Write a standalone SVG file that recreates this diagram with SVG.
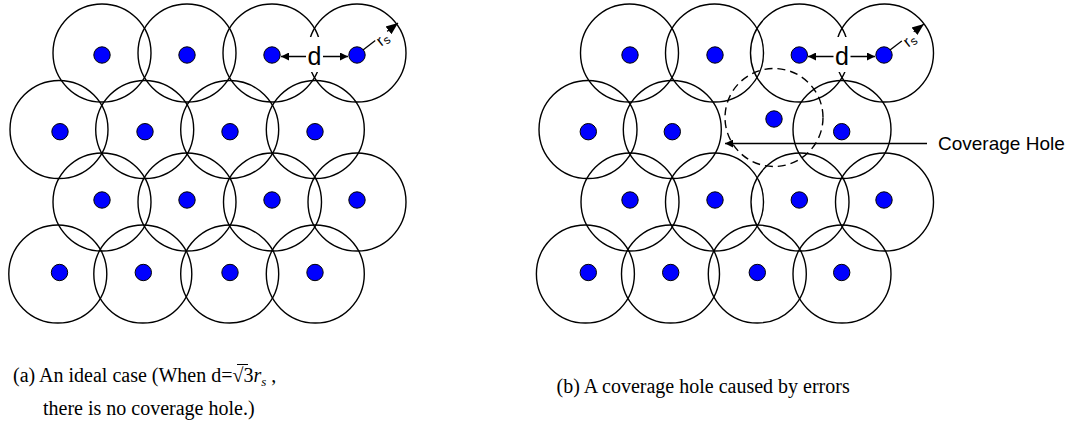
<svg xmlns="http://www.w3.org/2000/svg" width="1075" height="425" viewBox="0 0 1075 425">
<style>
.rng{fill:none;stroke:#000;stroke-width:1.4}
.hole{fill:none;stroke:#000;stroke-width:1.4;stroke-dasharray:8 5}
.dot{fill:#0000ff;stroke:#000;stroke-width:1}
.ln{stroke:#000;stroke-width:1.3;fill:none}
.lbl{font-family:"Liberation Sans",Arial,sans-serif;fill:#000}
.cap{font-family:"Liberation Serif","Times New Roman",serif;font-size:20px;fill:#000}
</style>
<defs>
<marker id="ah" viewBox="0 0 10 10" refX="10" refY="5" markerWidth="8" markerHeight="8" markerUnits="userSpaceOnUse" orient="auto-start-reverse"><path d="M0,0 L10,5 L0,10 z" fill="#000"/></marker>
<marker id="ah2" viewBox="0 0 10 10" refX="10" refY="5" markerWidth="12" markerHeight="12" markerUnits="userSpaceOnUse" orient="auto"><path d="M0,1 L10,5 L0,9 z" fill="#000"/></marker>
</defs>

<!-- Panel (a) -->
<g id="a-n11"><circle class="rng" cx="102" cy="53" r="49"/><circle class="dot" cx="102" cy="55" r="8.2"/></g>
<g id="a-n12"><circle class="rng" cx="187" cy="53" r="49"/><circle class="dot" cx="187" cy="55" r="8.2"/></g>
<g id="a-n13"><circle class="rng" cx="272" cy="53" r="49"/><circle class="dot" cx="272" cy="55" r="8.2"/></g>
<g id="a-n14"><circle class="rng" cx="357" cy="53" r="49"/><circle class="dot" cx="357" cy="55" r="8.2"/></g>
<g id="a-n21"><circle class="rng" cx="59" cy="129.5" r="49"/><circle class="dot" cx="60" cy="131.7" r="8.2"/></g>
<g id="a-n22"><circle class="rng" cx="144.7" cy="129.5" r="49"/><circle class="dot" cx="145" cy="131.7" r="8.2"/></g>
<g id="a-n23"><circle class="rng" cx="229.7" cy="129.5" r="49"/><circle class="dot" cx="230" cy="131.7" r="8.2"/></g>
<g id="a-n24"><circle class="rng" cx="315.3" cy="129.5" r="49"/><circle class="dot" cx="315" cy="131.7" r="8.2"/></g>
<g id="a-n31"><circle class="rng" cx="102" cy="202" r="49"/><circle class="dot" cx="102" cy="200" r="8.2"/></g>
<g id="a-n32"><circle class="rng" cx="187" cy="202" r="49"/><circle class="dot" cx="187" cy="200" r="8.2"/></g>
<g id="a-n33"><circle class="rng" cx="272.5" cy="202" r="49"/><circle class="dot" cx="272" cy="200" r="8.2"/></g>
<g id="a-n34"><circle class="rng" cx="357" cy="202" r="49"/><circle class="dot" cx="357" cy="200" r="8.2"/></g>
<g id="a-n41"><circle class="rng" cx="57.8" cy="274" r="49"/><circle class="dot" cx="59.5" cy="272.5" r="8.2"/></g>
<g id="a-n42"><circle class="rng" cx="142.8" cy="274" r="49"/><circle class="dot" cx="143.3" cy="272.5" r="8.2"/></g>
<g id="a-n43"><circle class="rng" cx="229.7" cy="274" r="49"/><circle class="dot" cx="230" cy="272.5" r="8.2"/></g>
<g id="a-n44"><circle class="rng" cx="315.3" cy="274" r="49"/><circle class="dot" cx="315" cy="272.5" r="8.2"/></g>

<!-- Panel (b) -->
<g id="b-n11"><circle class="rng" cx="629.5" cy="53" r="49"/><circle class="dot" cx="630" cy="55" r="8.2"/></g>
<g id="b-n12"><circle class="rng" cx="714.5" cy="53" r="49"/><circle class="dot" cx="715" cy="55" r="8.2"/></g>
<g id="b-n13"><circle class="rng" cx="799.5" cy="53" r="49"/><circle class="dot" cx="799.3" cy="55" r="8.2"/></g>
<g id="b-n14"><circle class="rng" cx="884.5" cy="53" r="49"/><circle class="dot" cx="884" cy="55" r="8.2"/></g>
<g id="b-n21"><circle class="rng" cx="588" cy="129.5" r="49"/><circle class="dot" cx="588.3" cy="131.7" r="8.2"/></g>
<g id="b-n22"><circle class="rng" cx="672.3" cy="129.5" r="49"/><circle class="dot" cx="672.3" cy="131.7" r="8.2"/></g>
<g id="b-n23"><circle class="hole" cx="774" cy="117.5" r="49"/><circle class="dot" cx="774" cy="119" r="8.2"/></g>
<g id="b-n24"><circle class="rng" cx="842" cy="129.5" r="49"/><circle class="dot" cx="841.7" cy="131.7" r="8.2"/></g>
<g id="b-n31"><circle class="rng" cx="630" cy="202" r="49"/><circle class="dot" cx="630" cy="200" r="8.2"/></g>
<g id="b-n32"><circle class="rng" cx="714.5" cy="202" r="49"/><circle class="dot" cx="715" cy="200" r="8.2"/></g>
<g id="b-n33"><circle class="rng" cx="800" cy="202" r="49"/><circle class="dot" cx="799.3" cy="200" r="8.2"/></g>
<g id="b-n34"><circle class="rng" cx="884.5" cy="202" r="49"/><circle class="dot" cx="884" cy="200" r="8.2"/></g>
<g id="b-n41"><circle class="rng" cx="585.4" cy="274" r="49"/><circle class="dot" cx="588.3" cy="272.5" r="8.2"/></g>
<g id="b-n42"><circle class="rng" cx="670.5" cy="274" r="49"/><circle class="dot" cx="670.7" cy="272.5" r="8.2"/></g>
<g id="b-n43"><circle class="rng" cx="757.3" cy="274" r="49"/><circle class="dot" cx="757.3" cy="272.5" r="8.2"/></g>
<g id="b-n44"><circle class="rng" cx="842" cy="274" r="49"/><circle class="dot" cx="841.7" cy="272.5" r="8.2"/></g>

<!-- connectors and dimension labels -->
<g id="connectors">
  <!-- panel a: d -->
  <rect x="306" y="37" width="17" height="35" fill="#fff"/>
  <line class="ln" x1="281" y1="56.5" x2="348" y2="56.5" marker-start="url(#ah)" marker-end="url(#ah)"/>
  <rect x="306" y="42" width="17" height="26" fill="#fff"/>
  <text class="lbl" x="314.5" y="65" font-size="25" text-anchor="middle">d</text>
  <!-- panel a: r_s -->
  <line class="ln" x1="363" y1="50" x2="398" y2="23" marker-end="url(#ah2)"/>
  <g transform="translate(384,42) rotate(-38)">
    <rect x="-6" y="-11" width="15" height="14" fill="#fff"/>
    <text class="lbl" x="-5" y="2" font-size="16">r<tspan font-size="12" dy="2">s</tspan></text>
  </g>

  <!-- panel b: d -->
  <rect x="833.5" y="37" width="17" height="35" fill="#fff"/>
  <line class="ln" x1="808" y1="56.5" x2="875" y2="56.5" marker-start="url(#ah)" marker-end="url(#ah)"/>
  <rect x="833.5" y="42" width="17" height="26" fill="#fff"/>
  <text class="lbl" x="842" y="65" font-size="25" text-anchor="middle">d</text>
  <!-- panel b: r_s -->
  <line class="ln" x1="890" y1="50" x2="924" y2="24" marker-end="url(#ah2)"/>
  <g transform="translate(911,43) rotate(-38)">
    <rect x="-6" y="-11" width="15" height="14" fill="#fff"/>
    <text class="lbl" x="-5" y="2" font-size="16">r<tspan font-size="12" dy="2">s</tspan></text>
  </g>

  <!-- coverage hole pointer -->
  <line class="ln" x1="927" y1="143.5" x2="725" y2="143.5" marker-end="url(#ah)"/>
  <text class="lbl" x="938" y="150" font-size="19">Coverage Hole</text>
</g>

<!-- captions -->
<g id="captions">
  <text class="cap" x="13" y="382">(a) An ideal case (When d=<tspan>√</tspan>3<tspan font-style="italic">r</tspan><tspan font-style="italic" font-size="13" dy="4">s</tspan><tspan dy="-4"> ,</tspan></text>
  <line x1="237" y1="364.5" x2="248" y2="364.5" stroke="#000" stroke-width="1"/>
  <text class="cap" x="43" y="415">there is no coverage hole.)</text>
  <text class="cap" x="556.5" y="393">(b) A coverage hole caused by errors</text>
</g>
</svg>
